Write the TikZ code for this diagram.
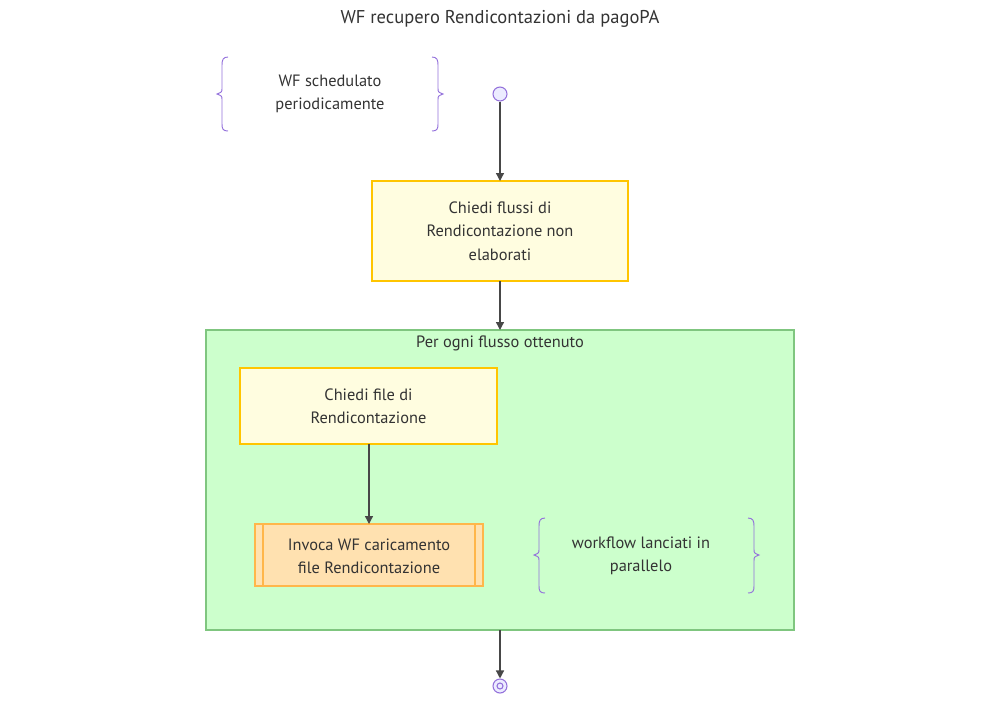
\documentclass[tikz,border=0pt]{standalone}
\usepackage{fontspec}
\setmainfont{PT Sans}
\usetikzlibrary{arrows.meta}
\definecolor{boxfill}{HTML}{FFFDE0}
\definecolor{boxline}{HTML}{FFC500}
\definecolor{subfill}{HTML}{FFE1B0}
\definecolor{subline}{HTML}{FFB64A}
\definecolor{clfill}{HTML}{CCFFCC}
\definecolor{clline}{HTML}{7FC67F}
\definecolor{purp}{HTML}{9370DB}
\definecolor{startfill}{HTML}{ECECFF}
\definecolor{txt}{HTML}{333333}
\begin{document}
\begin{tikzpicture}[x=0.75pt,y=-0.75pt,
  every node/.style={text=txt,font=\fontsize{12.3pt}{17.5pt}\selectfont,align=center,inner sep=0pt},
  proc/.style={draw=boxline,fill=boxfill,line width=1.3pt},
  subr/.style={draw=subline,fill=subfill,line width=1.3pt},
  brace/.style={draw=purp,line width=0.7pt},
  conn/.style={draw=txt!90,line width=1pt,-{Triangle[length=6pt,width=6pt]}}]
\useasboundingbox (0,0) rectangle (1000,701);
\node (title) at (500,19) {\fontsize{13.9pt}{16pt}\selectfont WF recupero Rendicontazioni da pagoPA};
% note 1
\draw[brace] (228,57) .. controls (223,57) and (222,60) .. (222,65) -- (222,88) .. controls (222,92) .. (217,94) .. controls (222,96) .. (222,100) -- (222,124) .. controls (222,129) and (223,131) .. (228,131);
\draw[brace] (432,57) .. controls (437,57) and (438,60) .. (438,65) -- (438,88) .. controls (438,92) .. (443,94) .. controls (438,96) .. (438,100) -- (438,124) .. controls (438,129) and (437,131) .. (432,131);
\node (note1) at (330,94) {WF schedulato\\ periodicamente};
% start
\node[circle,draw=purp,fill=startfill,line width=0.8pt,minimum size=10.5pt] (s) at (500,94) {};
% box 1
\path[proc] (372,181) rectangle (628,281);
\node (b1) at (500,231) {Chiedi flussi di\\ Rendicontazione non\\ elaborati};
\coordinate (b1top) at (500,181);
\coordinate (b1bot) at (500,281);
% cluster
\path[draw=clline,fill=clfill,line width=1.3pt] (206,330) rectangle (794,630);
\coordinate (cltop) at (500,330);
\coordinate (clbot) at (500,630);
\node (cllabel) at (500,343) {Per ogni flusso ottenuto};
% box 2
\path[proc] (240,368) rectangle (497,444);
\node (b2) at (368.5,406) {Chiedi file di\\ Rendicontazione};
\coordinate (b2bot) at (369,444);
% subroutine
\path[subr] (255,524) rectangle (483,586);
\draw[subline,line width=1.3pt] (263,524) -- (263,586) (475,524) -- (475,586);
\node (sub) at (369,556) {Invoca WF caricamento\\ file Rendicontazione};
\coordinate (subtop) at (369,524);
% note 2
\draw[brace] (545,518) .. controls (540,518) and (539,521) .. (539,526) -- (539,549) .. controls (539,553) .. (534,555) .. controls (539,557) .. (539,561) -- (539,586) .. controls (539,591) and (540,593) .. (545,593);
\draw[brace] (748,518) .. controls (753,518) and (754,521) .. (754,526) -- (754,549) .. controls (754,553) .. (759,555) .. controls (754,557) .. (754,561) -- (754,586) .. controls (754,591) and (753,593) .. (748,593);
\node (note2) at (641,556) {workflow lanciati in\\ parallelo};
% end
\node[circle,draw=purp,fill=startfill,line width=0.8pt,minimum size=10.5pt] (end) at (500,686) {};
\node[circle,draw=purp,line width=0.8pt,minimum size=4.5pt] (endin) at (500,686) {};
% connectors
\draw[conn] (s) -- (b1top);
\draw[conn] (b1bot) -- (cltop);
\draw[conn] (b2bot) -- (subtop);
\draw[conn] (clbot) -- (end);
\end{tikzpicture}
\end{document}
